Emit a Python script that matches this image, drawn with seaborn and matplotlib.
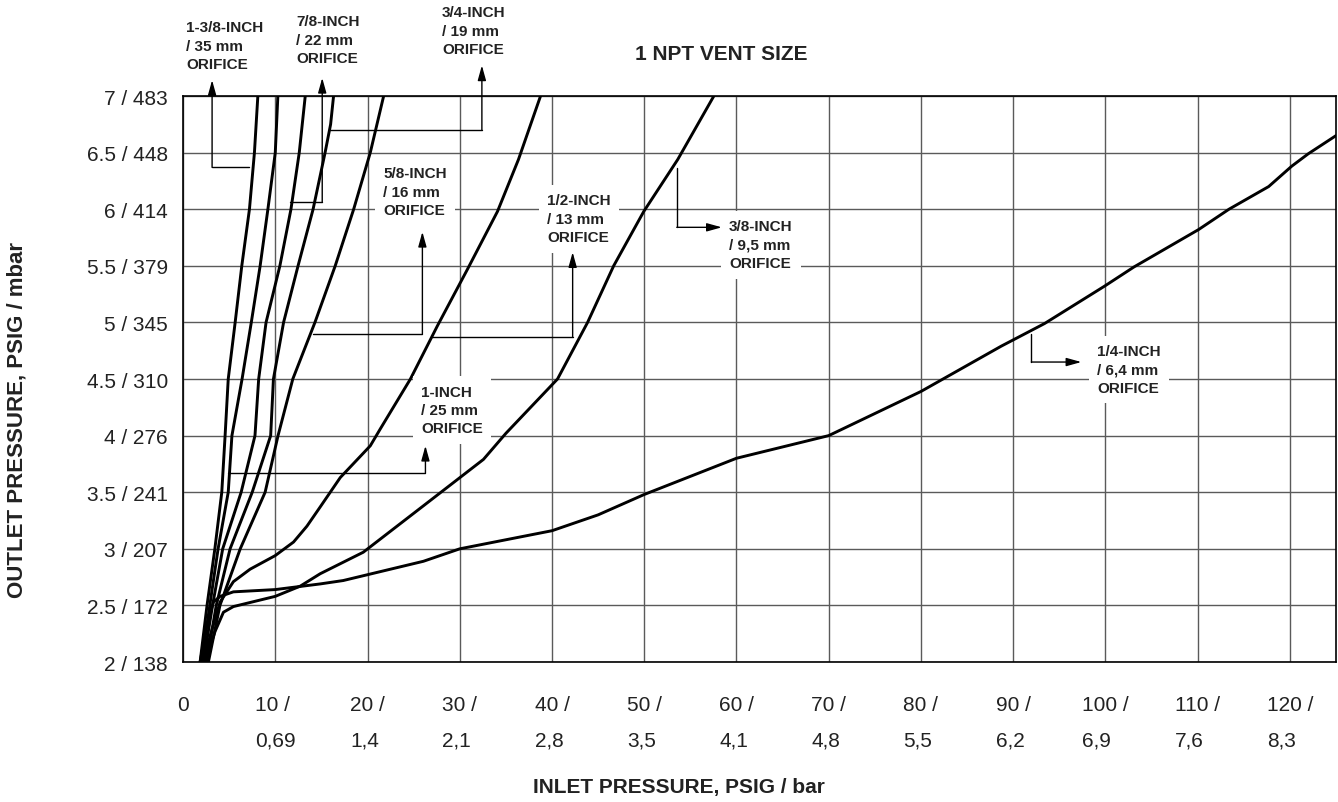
import matplotlib
matplotlib.use("Agg")
import matplotlib.pyplot as plt
import seaborn as sns
import pandas as pd

# Curve data: inlet pressure (psig) vs outlet pressure (psig)
x_1_3_8 = [1.85, 2.6, 3.45, 4.2, 4.56, 4.9, 5.65, 6.37, 7.2, 7.74, 8.11]
y_1_3_8 = [2.0, 2.5, 3.0, 3.5, 4.0, 4.5, 5.0, 5.5, 6.0, 6.5, 7.0]

x_1 = [2.0, 2.9, 3.8, 4.9, 5.3, 6.4, 7.4, 8.36, 9.2, 10.0, 10.28]
y_1 = [2.0, 2.5, 3.0, 3.5, 4.0, 4.5, 5.0, 5.5, 6.0, 6.5, 7.0]

x_7_8 = [2.2, 3.2, 4.3, 6.3, 7.8, 8.2, 9.0, 10.5, 11.7, 12.6, 13.25]
y_7_8 = [2.0, 2.5, 3.0, 3.5, 4.0, 4.5, 5.0, 5.5, 6.0, 6.5, 7.0]

x_3_4 = [2.55, 3.6, 5.1, 7.5, 9.5, 9.8, 10.9, 12.47, 14.1, 15.4, 16.0, 16.32]
y_3_4 = [2.0, 2.5, 3.0, 3.5, 4.0, 4.5, 5.0, 5.5, 6.0, 6.5, 6.75, 7.0]

x_5_8 = [2.75, 4.0, 6.2, 8.9, 10.3, 11.9, 14.3, 16.5, 18.5, 20.3, 21.75]
y_5_8 = [2.0, 2.5, 3.0, 3.5, 4.0, 4.5, 5.0, 5.5, 6.0, 6.5, 7.0]

x_1_2 = [2.28, 2.93, 4.02, 5.46, 7.27, 9.99, 11.98, 13.43, 14.87, 17.05, 20.3,
         21.39, 24.65, 27.58, 30.84, 34.09, 36.37, 38.76]
y_1_2 = [2.0, 2.23, 2.53, 2.71, 2.82, 2.94, 3.06, 3.2, 3.37, 3.63, 3.91,
         4.06, 4.5, 4.97, 5.47, 5.98, 6.44, 7.0]

x_3_8 = [2.39, 3.47, 4.38, 5.46, 9.99, 12.7, 14.87, 19.54, 26.06, 32.57, 35.0,
         40.6, 43.86, 46.69, 49.95, 53.64, 57.55]
y_3_8 = [2.0, 2.27, 2.44, 2.49, 2.58, 2.67, 2.78, 2.97, 3.38, 3.79, 4.02,
         4.5, 5.0, 5.5, 5.98, 6.44, 7.0]

x_1_4 = [1.85, 2.57, 3.29, 4.02, 5.46, 9.99, 14.87, 17.37, 26.06, 30.0, 40.0,
         45.0, 50.0, 60.0, 70.0, 80.0, 88.7, 93.4, 99.9, 103.1, 110.1, 113.4,
         117.7, 120.2, 122.0, 125.0]
y_1_4 = [2.0, 2.32, 2.53, 2.58, 2.62, 2.64, 2.69, 2.72, 2.89, 3.0, 3.16,
         3.3, 3.48, 3.8, 4.0, 4.39, 4.79, 4.99, 5.32, 5.49, 5.82, 6.0,
         6.2, 6.38, 6.49, 6.65]

x_ticks = [0, 10, 20, 30, 40, 50, 60, 70, 80, 90, 100, 110, 120]
x_labels = ["0", "10 /\n0,69", "20 /\n1,4", "30 /\n2,1", "40 /\n2,8", "50 /\n3,5",
            "60 /\n4,1", "70 /\n4,8", "80 /\n5,5", "90 /\n6,2", "100 /\n6,9",
            "110 /\n7,6", "120 /\n8,3"]
y_ticks = [2, 2.5, 3, 3.5, 4, 4.5, 5, 5.5, 6, 6.5, 7]
y_labels = ["2 / 138", "2.5 / 172", "3 / 207", "3.5 / 241", "4 / 276", "4.5 / 310",
            "5 / 345", "5.5 / 379", "6 / 414", "6.5 / 448", "7 / 483"]

curves = {
    "1-3/8": (x_1_3_8, y_1_3_8),
    "1": (x_1, y_1),
    "7/8": (x_7_8, y_7_8),
    "3/4": (x_3_4, y_3_4),
    "5/8": (x_5_8, y_5_8),
    "1/2": (x_1_2, y_1_2),
    "3/8": (x_3_8, y_3_8),
    "1/4": (x_1_4, y_1_4),
}

sns.set_style("white")
plt.rcParams["font.family"] = ["Liberation Sans", "DejaVu Sans"]

fig = plt.figure(figsize=(13.38, 8.03), dpi=100)
ax = fig.add_axes([0.1368, 0.1743, 0.8617, 0.7049])

for name, (xs, ys) in curves.items():
    df = pd.DataFrame({"inlet": xs, "outlet": ys})
    sns.lineplot(data=df, x="inlet", y="outlet", ax=ax, color="black",
                 linewidth=2.1, sort=False, estimator=None, zorder=3)

ax.set_xlim(0, 125)
ax.set_ylim(2, 7)
ax.set_xticks(x_ticks)
ax.set_xticklabels(x_labels, fontsize=15, ha="center", multialignment="left",
                   linespacing=2.05, color="#222222")
ax.set_yticks(y_ticks)
ax.set_yticklabels(y_labels, fontsize=15, color="#222222")
ax.set_xlabel("")
ax.set_ylabel("")
ax.grid(True, color="#5a5a5a", linewidth=1.0)
ax.set_axisbelow(True)
ax.tick_params(axis="x", direction="out", length=5, width=1, pad=19, color="#333333")
ax.tick_params(axis="y", direction="out", length=6, width=1, pad=5, color="#333333")
for s in ax.spines.values():
    s.set_color("black")
    s.set_linewidth(1.2)

arrow_kw = dict(arrowstyle="-|>,head_length=0.9,head_width=0.25", color="black",
                lw=1.0, shrinkA=0, shrinkB=0)


def leader(path, tip):
    xs = [p[0] for p in path]
    ys = [p[1] for p in path]
    ax.plot(xs, ys, color="black", lw=1.0, clip_on=False, zorder=4)
    ax.annotate("", xy=tip, xytext=path[-1], arrowprops=arrow_kw,
                annotation_clip=False, zorder=4)


def label(x, y, text, box=True):
    kw = dict(ha="left", va="top", fontsize=11, weight="bold", linespacing=1.4,
              color="#222222", zorder=6, clip_on=False)
    if box:
        kw["bbox"] = dict(boxstyle="square,pad=0.55", fc="white", ec="none")
    ax.text(x, y, text, **kw)


# Annotations
leader([(7.2, 6.37), (3.15, 6.37)], (3.15, 7.14))
label(0.33, 7.67, "1-3/8-INCH\n/ 35 mm\nORIFICE", box=False)

leader([(11.62, 6.06), (15.09, 6.06)], (15.09, 7.16))
label(12.25, 7.72, "7/8-INCH\n/ 22 mm\nORIFICE", box=False)

leader([(15.96, 6.70), (32.4, 6.70)], (32.4, 7.27))
label(28.08, 7.80, "3/4-INCH\n/ 19 mm\nORIFICE", box=False)

leader([(14.1, 4.9), (25.95, 4.9)], (25.95, 5.8))
label(21.7, 6.38, "5/8-INCH\n/ 16 mm\nORIFICE")

leader([(27.04, 4.87), (42.24, 4.87)], (42.24, 5.62))
label(39.46, 6.14, "1/2-INCH\n/ 13 mm\nORIFICE")

leader([(53.53, 6.36), (53.53, 5.84)], (58.41, 5.84))
label(59.2, 5.91, "3/8-INCH\n/ 9,5 mm\nORIFICE")

leader([(4.89, 3.67), (26.28, 3.67)], (26.28, 3.91))
label(25.8, 4.45, "1-INCH\n/ 25 mm\nORIFICE")

leader([(91.97, 4.9), (91.97, 4.65)], (97.39, 4.65))
label(99.1, 4.81, "1/4-INCH\n/ 6,4 mm\nORIFICE")

fig.text(721 / 1338, 1 - 55 / 803, "1 NPT VENT SIZE", ha="center", va="center",
         fontsize=15, weight="bold", color="#222222")
fig.text(679 / 1338, 1 - 788 / 803, "INLET PRESSURE, PSIG / bar", ha="center",
         va="center", fontsize=15, weight="bold", color="#222222")
fig.text(17 / 1338, 1 - 420 / 803, "OUTLET PRESSURE, PSIG / mbar", ha="center",
         va="center", rotation=90, fontsize=16, weight="bold", color="#222222")

fig.savefig("out.png", dpi=100)
